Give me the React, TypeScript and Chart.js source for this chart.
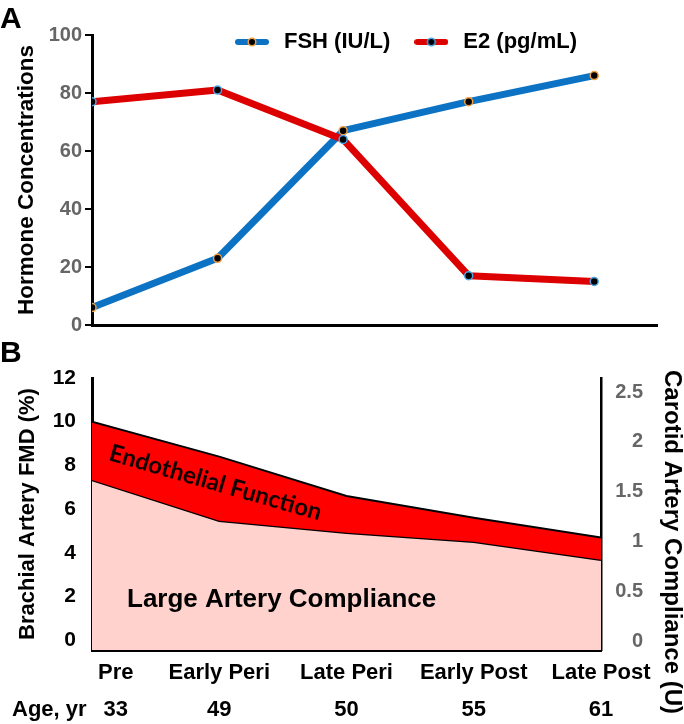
import React, { useEffect, useRef } from 'react';
import { Chart, registerables } from 'chart.js';

Chart.register(...registerables);

// ---------- data ----------
const stages = ['Pre', 'Early Peri', 'Late Peri', 'Early Post', 'Late Post'];
const ages = ['33', '49', '50', '55', '61'];
const ageRowTitle = 'Age, yr';
const fshValues = [6, 23, 67, 77, 86];
const e2Values = [77, 81, 64, 17, 15];
const hormoneTicks = [0, 20, 40, 60, 80, 100];
const fmdValues = [10.0, 8.4, 6.6, 5.6, 4.7];
const complianceValues = [1.62, 1.21, 1.09, 1.0, 0.82];
const fmdTicks = [0, 2, 4, 6, 8, 10, 12];
const complianceTicks = [0, 0.5, 1, 1.5, 2, 2.5];

// ---------- styles ----------
const ARIAL = '"Liberation Sans", Arial, sans-serif';
const LATO = 'Lato, "Open Sans", sans-serif';
const BLUE = '#0B72C4';
const RED = '#DD0000';
const ORANGE = '#F0A040';
const LIGHTBLUE = '#4AA8E8';
const GRAY = '#666666';

function legendMarker(lineColor: string, ringColor: string) {
  const c = document.createElement('canvas');
  c.width = 34;
  c.height = 12;
  const g = c.getContext('2d')!;
  g.strokeStyle = lineColor;
  g.lineWidth = 6;
  g.lineCap = 'round';
  g.beginPath();
  g.moveTo(3, 6);
  g.lineTo(31, 6);
  g.stroke();
  g.beginPath();
  g.arc(17, 6, 3.8, 0, Math.PI * 2);
  g.fillStyle = '#000';
  g.fill();
  g.lineWidth = 1.5;
  g.strokeStyle = ringColor;
  g.stroke();
  return c;
}

// ---------- plugins ----------
const panelLabel = {
  id: 'panelLabel',
  afterDraw(chart: any, _a: any, opts: any) {
    if (!opts || !opts.text) return;
    const ctx = chart.ctx;
    ctx.save();
    ctx.font = `bold ${opts.size}px ${ARIAL}`;
    ctx.fillStyle = '#000';
    ctx.textAlign = 'left';
    ctx.textBaseline = 'alphabetic';
    ctx.fillText(opts.text, opts.x, opts.y);
    ctx.restore();
  },
};

const legendPlace = {
  id: 'legendPlace',
  afterLayout(chart: any, _a: any, opts: any) {
    const l = chart.legend;
    if (!l || !opts || opts.left == null) return;
    l.left = opts.left;
    l.right = opts.right;
    l.top = opts.top;
    l.bottom = opts.top + opts.height;
    l.width = l.right - l.left;
    l.height = opts.height;
  },
};

const stageLabels = {
  id: 'stageLabels',
  afterDraw(chart: any, _a: any, opts: any) {
    const xs = chart.scales.x;
    const area = chart.chartArea;
    const ctx = chart.ctx;
    ctx.save();
    ctx.font = `bold ${opts.size}px ${ARIAL}`;
    ctx.fillStyle = '#000';
    ctx.textBaseline = 'alphabetic';
    ctx.textAlign = 'center';
    stages.forEach((s, i) => {
      const w = Math.max(ctx.measureText(s).width, ctx.measureText(ages[i]).width);
      const px = Math.max(xs.getPixelForValue(i), area.left + w / 2 + 6);
      ctx.fillText(s, px, opts.stageY);
      ctx.fillText(ages[i], px, opts.ageY);
    });
    ctx.textAlign = 'left';
    ctx.fillText(ageRowTitle, opts.ageTitleX, opts.ageY);
    ctx.restore();
  },
};

const areaTexts = {
  id: 'areaTexts',
  afterDatasetsDraw(chart: any, _a: any, opts: any) {
    const ctx = chart.ctx;
    const xs = chart.scales.x;
    const ys = chart.scales.y;
    (opts.items || []).forEach((it: any) => {
      ctx.save();
      ctx.translate(xs.getPixelForValue(it.x), ys.getPixelForValue(it.y));
      ctx.rotate((it.angle * Math.PI) / 180);
      ctx.font = `bold ${it.size}px ${it.family}`;
      ctx.fillStyle = it.color;
      ctx.textAlign = 'center';
      ctx.textBaseline = 'middle';
      ctx.fillText(it.text, 0, 0);
      ctx.restore();
    });
  },
};

const rightTitle = {
  id: 'rightTitle',
  afterDraw(chart: any, _a: any, opts: any) {
    const ctx = chart.ctx;
    ctx.save();
    ctx.translate(opts.x, opts.y);
    ctx.rotate(Math.PI / 2);
    ctx.font = `bold ${opts.size}px ${ARIAL}`;
    ctx.fillStyle = '#000';
    ctx.textAlign = 'center';
    ctx.textBaseline = 'middle';
    ctx.fillText(opts.text, 0, 0);
    ctx.restore();
  },
};

export default function App() {
  const refA = useRef<HTMLCanvasElement>(null);
  const refB = useRef<HTMLCanvasElement>(null);

  useEffect(() => {
    const markers = [legendMarker(BLUE, ORANGE), legendMarker(RED, LIGHTBLUE)];

    const chartA = new Chart(refA.current!, {
      type: 'line',
      data: {
        datasets: [
          {
            label: 'FSH (IU/L)',
            data: fshValues.map((y, i) => ({ x: i, y })),
            borderColor: BLUE,
            borderWidth: 7,
            borderJoinStyle: 'round',
            borderCapStyle: 'round',
            pointRadius: 4,
            pointBackgroundColor: '#000',
            pointBorderColor: ORANGE,
            pointBorderWidth: 1.5,
            tension: 0,
            order: 2,
          },
          {
            label: 'E2 (pg/mL)',
            data: e2Values.map((y, i) => ({ x: i, y })),
            borderColor: RED,
            borderWidth: 7,
            borderJoinStyle: 'round',
            borderCapStyle: 'round',
            pointRadius: 4,
            pointBackgroundColor: '#000',
            pointBorderColor: LIGHTBLUE,
            pointBorderWidth: 1.5,
            tension: 0,
            order: 1,
          },
        ],
      },
      options: {
        animation: false,
        responsive: false,
        devicePixelRatio: 1,
        events: [],
        layout: { padding: { left: 0, right: 27, top: 34, bottom: 12 } },
        scales: {
          x: {
            type: 'linear',
            min: 0,
            max: 4.5,
            ticks: { display: false },
            grid: { display: false, drawTicks: false },
            border: { display: true, color: '#000', width: 3 },
          },
          y: {
            type: 'linear',
            min: 0,
            max: 100,
            bounds: 'data',
            afterBuildTicks: (s: any) => {
              s.ticks = hormoneTicks.map((v) => ({ value: v }));
            },
            afterFit: (s: any) => {
              s.width = 92;
            },
            ticks: {
              color: GRAY,
              padding: 3,
              font: { family: ARIAL, size: 20, weight: 'bold' },
            },
            grid: { drawOnChartArea: false, color: '#000', lineWidth: 2, tickLength: 7 },
            border: { color: '#000', width: 3 },
            title: {
              display: true,
              text: 'Hormone Concentrations',
              color: '#000',
              font: { family: ARIAL, size: 22.5, weight: 'bold', lineHeight: 1 },
              padding: { top: 16, bottom: 0 },
            },
          },
        },
        plugins: {
          tooltip: { enabled: false },
          legend: {
            display: true,
            position: 'top',
            align: 'start',
            fullSize: false,
            maxHeight: 1,
            labels: {
              usePointStyle: true,
              pointStyleWidth: 42,
              padding: 20,
              color: '#000',
              font: { family: ARIAL, size: 22, weight: 'bold' },
              generateLabels: (chart: any) =>
                chart.data.datasets.map((ds: any, i: number) => ({
                  text: ds.label,
                  pointStyle: markers[i],
                  fillStyle: ds.borderColor,
                  strokeStyle: ds.borderColor,
                  fontColor: '#000',
                  lineWidth: 0,
                  hidden: false,
                  datasetIndex: i,
                })),
            },
          },
          legendPlace: { left: 211, right: 684, top: 11, height: 60 },
          panelLabel: { text: 'A', x: 0, y: 28, size: 30 },
        } as any,
      },
      plugins: [legendPlace, panelLabel],
    } as any);

    const chartB = new Chart(refB.current!, {
      type: 'line',
      data: {
        datasets: [
          {
            label: 'Endothelial Function',
            data: fmdValues.map((y, i) => ({ x: i, y })),
            yAxisID: 'y',
            borderColor: '#000',
            borderWidth: 2,
            backgroundColor: '#FF0000',
            fill: '+1',
            pointRadius: 0,
            tension: 0,
          },
          {
            label: 'Large Artery Compliance',
            data: complianceValues.map((y, i) => ({ x: i, y })),
            yAxisID: 'y1',
            borderColor: '#000',
            borderWidth: 2.5,
            backgroundColor: '#FFD2CE',
            fill: 'start',
            pointRadius: 0,
            tension: 0,
          },
        ],
      },
      options: {
        animation: false,
        responsive: false,
        devicePixelRatio: 1,
        events: [],
        layout: { padding: { left: 0, right: 41, top: 38, bottom: 74 } },
        scales: {
          x: {
            type: 'linear',
            min: 0,
            max: 4,
            ticks: { display: false },
            grid: { display: false, drawTicks: false },
            border: { display: true, color: '#000', width: 3 },
          },
          y: {
            type: 'linear',
            position: 'left',
            min: -0.45,
            max: 12,
            bounds: 'data',
            afterBuildTicks: (s: any) => {
              s.ticks = fmdTicks.map((v) => ({ value: v }));
            },
            afterFit: (s: any) => {
              s.width = 92;
            },
            ticks: {
              color: '#000',
              padding: 16,
              font: { family: ARIAL, size: 21, weight: 'bold' },
            },
            grid: { display: false, drawTicks: false },
            border: { color: '#000', width: 3 },
            title: {
              display: true,
              text: 'Brachial Artery FMD (%)',
              color: '#000',
              font: { family: ARIAL, size: 22, weight: 'bold', lineHeight: 1 },
              padding: { top: 17, bottom: 0 },
            },
          },
          y1: {
            type: 'linear',
            position: 'right',
            min: -0.083,
            max: 2.64,
            bounds: 'data',
            afterBuildTicks: (s: any) => {
              s.ticks = complianceTicks.map((v) => ({ value: v }));
            },
            afterFit: (s: any) => {
              s.width = 42;
            },
            ticks: {
              color: GRAY,
              padding: 10,
              crossAlign: 'far',
              callback: (v: any) => String(v),
              font: { family: ARIAL, size: 20, weight: 'bold' },
            },
            grid: { display: false, drawTicks: false },
            border: { color: '#000', width: 2.5 },
          },
        },
        plugins: {
          tooltip: { enabled: false },
          legend: { display: false },
          panelLabel: { text: 'B', x: 0, y: 22, size: 30 },
          stageLabels: { size: 22, stageY: 339, ageY: 376, ageTitleX: 12 },
          rightTitle: { text: 'Carotid Artery Compliance (U)', x: 672, y: 202, size: 24 },
          areaTexts: {
            items: [
              { text: 'Endothelial Function', x: 0.97, y: 7.2, angle: 16, size: 24, family: LATO, color: '#140000' },
              { text: 'Large Artery Compliance', x: 1.49, y: 1.85, angle: 0, size: 26, family: ARIAL, color: '#000' },
            ],
          },
        } as any,
      },
      plugins: [panelLabel, stageLabels, rightTitle, areaTexts],
    } as any);

    return () => {
      chartA.destroy();
      chartB.destroy();
    };
  }, []);

  return (
    <div style={{ position: 'absolute', left: 0, top: 0, width: 684, height: 724, background: '#fff' }}>
      <canvas ref={refA} width={684} height={340} style={{ display: 'block' }} />
      <canvas ref={refB} width={684} height={384} style={{ display: 'block' }} />
    </div>
  );
}
